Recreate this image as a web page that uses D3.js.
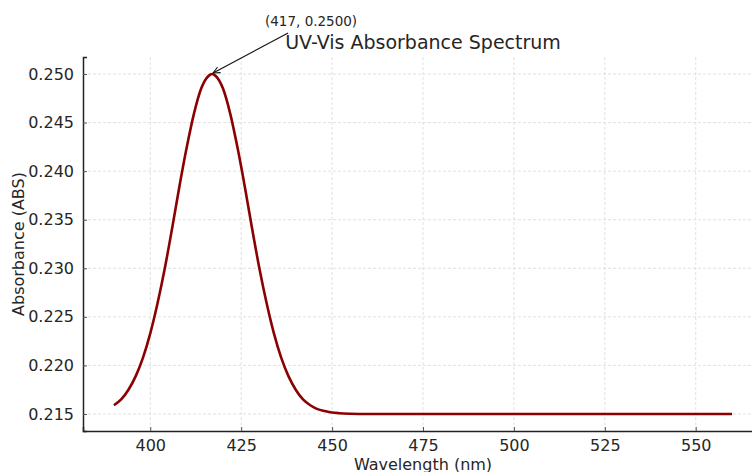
<!DOCTYPE html>
<html>
<head>
<meta charset="utf-8">
<script src="https://cdn.jsdelivr.net/npm/d3@7"></script>
<style>
  body { margin: 0; background: #fff; }
  text { font-family: "DejaVu Sans", sans-serif; fill: #262626; }
</style>
</head>
<body>
<script>
// wavelength (nm) and absorbance
var wavelengths = [390, 392, 394, 396, 398, 400, 402, 404, 406, 408, 410, 412, 414, 416, 417,
    418, 420, 422, 424, 426, 428, 430, 432, 434, 436, 438, 440, 442, 444, 446, 448, 450,
    452, 455, 460, 470, 480, 490, 500, 510, 520, 530, 540, 550, 560];
var absorbance = [0.2159, 0.2165, 0.2175, 0.2189, 0.2208, 0.2233, 0.2264, 0.2300, 0.2341, 0.2384,
    0.2424, 0.2459, 0.2485, 0.2498, 0.2500,
    0.2498, 0.2485, 0.2459, 0.2424, 0.2384, 0.2341, 0.2300, 0.2264, 0.2233, 0.2208, 0.2189,
    0.2175, 0.2165, 0.2159, 0.2155, 0.2153, 0.21515,
    0.21508, 0.21503, 0.2150, 0.2150, 0.2150, 0.2150, 0.2150, 0.2150, 0.2150, 0.2150, 0.2150, 0.2150, 0.2150];
var xTicks = [400, 425, 450, 475, 500, 525, 550];
var yTicks = [0.215, 0.220, 0.225, 0.230, 0.235, 0.240, 0.245, 0.250];
var peak = { x: 417, y: 0.2500, label: "(417, 0.2500)" };

var W = 752, H = 472;
var margin = { top: 57, left: 83, bottom: 41 },
    plotRight = 763,
    height = H - margin.top - margin.bottom;

var xScale = d3.scaleLinear()
    .domain([381.5, 568.5])
    .range([margin.left, plotRight]);

var yScale = d3.scaleLinear()
    .domain([0.21325, 0.25175])
    .range([margin.top + height, margin.top]);

var svg = d3.select("body").append("svg")
    .attr("width", W)
    .attr("height", H);

svg.append("defs").append("marker")
    .attr("id", "arrow")
    .attr("viewBox", "0 0 10 10")
    .attr("refX", 9.5).attr("refY", 5)
    .attr("markerWidth", 8).attr("markerHeight", 8)
    .attr("markerUnits", "userSpaceOnUse")
    .attr("orient", "auto")
    .append("path")
    .attr("d", "M1,1 L9.5,5 L1,9")
    .attr("fill", "none")
    .attr("stroke", "#111")
    .attr("stroke-width", 1.3);

// grid
svg.append("g").selectAll("line").data(xTicks).enter().append("line")
    .attr("x1", d => xScale(d)).attr("x2", d => xScale(d))
    .attr("y1", margin.top).attr("y2", margin.top + height)
    .attr("stroke", "#d9d9d9").attr("stroke-width", 0.8)
    .attr("stroke-dasharray", "3,2");
svg.append("g").selectAll("line").data(yTicks).enter().append("line")
    .attr("x1", margin.left).attr("x2", plotRight)
    .attr("y1", d => yScale(d)).attr("y2", d => yScale(d))
    .attr("stroke", "#d9d9d9").attr("stroke-width", 0.8)
    .attr("stroke-dasharray", "3,2");

// axes (ticks pointing inward)
var xAxis = d3.axisBottom(xScale).tickValues(xTicks).tickSize(-4).tickPadding(9)
    .tickFormat(d3.format("d"));
var yAxis = d3.axisLeft(yScale).tickValues(yTicks).tickSize(-4).tickPadding(9)
    .tickFormat(d3.format(".3f"));

var gx = svg.append("g")
    .attr("transform", "translate(0," + (margin.top + height) + ")")
    .call(xAxis);
var gy = svg.append("g")
    .attr("transform", "translate(" + margin.left + ",0)")
    .call(yAxis);

[gx, gy].forEach(function (g) {
    g.select(".domain").attr("stroke", "#222").attr("stroke-width", 1.5);
    g.selectAll(".tick line").attr("stroke", "#555").attr("stroke-width", 1);
    g.selectAll(".tick text").attr("font-size", 16).attr("fill", "#262626")
        .style("font-family", "DejaVu Sans");
});

// spectrum
var line = d3.line()
    .x((d, i) => xScale(wavelengths[i]))
    .y(d => yScale(d))
    .curve(d3.curveMonotoneX);

svg.append("path")
    .datum(absorbance)
    .attr("d", line)
    .attr("fill", "none")
    .attr("stroke", "#8b0000")
    .attr("stroke-width", 2.6);

// title and labels
svg.append("text")
    .attr("x", (margin.left + plotRight) / 2).attr("y", 49)
    .attr("text-anchor", "middle")
    .attr("font-size", 19)
    .attr("fill", "#333")
    .text("UV-Vis Absorbance Spectrum");

svg.append("text")
    .attr("x", (margin.left + plotRight) / 2).attr("y", 470)
    .attr("text-anchor", "middle")
    .attr("font-size", 16)
    .text("Wavelength (nm)");

svg.append("text")
    .attr("transform", "translate(24," + (margin.top + height / 2) + ") rotate(-90)")
    .attr("text-anchor", "middle")
    .attr("font-size", 16)
    .text("Absorbance (ABS)");

// peak annotation
var px = xScale(peak.x), py = yScale(peak.y);
svg.append("line")
    .attr("x1", px + 76).attr("y1", py - 41)
    .attr("x2", px + 1).attr("y2", py - 1)
    .attr("stroke", "#111").attr("stroke-width", 1.1)
    .attr("marker-end", "url(#arrow)");
svg.append("text")
    .attr("x", px + 99).attr("y", py - 48)
    .attr("text-anchor", "middle")
    .attr("font-size", 13.5)
    .attr("fill", "#333")
    .text(peak.label);
</script>
</body>
</html>
